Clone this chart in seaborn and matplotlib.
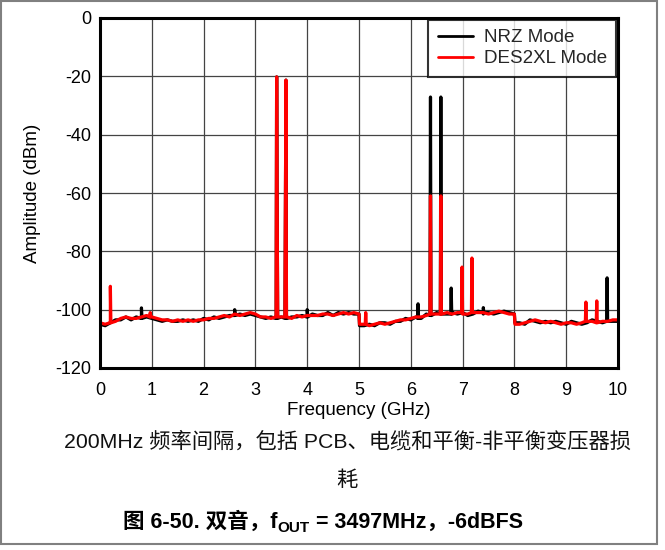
import numpy as np
import pandas as pd
import matplotlib
matplotlib.use("Agg")
import matplotlib.pyplot as plt
import seaborn as sns
from matplotlib.patches import Rectangle

# ---------------- data ----------------
floor_freq = [round(0.1 * i, 1) for i in range(101)]  # GHz grid of the noise floor readings

red_floor = [-104.5, -105, -104.5, -104, -103, -102.5, -103, -103, -102.5, -102,
             -102.5, -103, -103.5, -103.5, -104, -103.5, -104, -103.5, -104, -103.5,
             -103.5, -103, -103, -102.5, -102, -102.5, -101.5, -102, -101.5, -101,
             -101.5, -102.5, -102.5, -103, -102.5, -102.5, -102.5, -103, -102, -102.5,
             -102, -102, -102, -101.5, -101.5, -102, -101.5, -101, -101.5, -101,
             -101.5, -105, -105.5, -105, -104.5, -105, -104.5, -104, -103.5, -103.5,
             -103, -102.5, -102.5, -102, -101.5, -101.5, -101.5, -101, -101.5, -101,
             -101.5, -101.5, -101, -101, -101, -101.5, -101, -100.5, -101, -101.5,
             -101.5, -105, -104.5, -104, -103.5, -104, -104.5, -104, -104.5, -105,
             -104.5, -104.5, -105, -104.5, -104, -104, -104.5, -104, -104, -103.5,
             -103.5]

black_floor = [-105, -105.5, -104.5, -103.5, -103.5, -102.5, -103.5, -102.5, -103, -102.5,
               -103, -103.5, -104, -103.5, -104, -104, -103.5, -104, -103.5, -104,
               -103, -103.5, -102.5, -103, -102.5, -102, -102, -101.5, -102, -101.5,
               -102, -102.5, -103, -102.5, -103, -102.5, -103, -102.5, -102.5, -102,
               -102.5, -101.5, -102, -102, -101, -102, -101, -101.5, -101, -101.5,
               -101.5, -105.5, -105, -105.5, -104.5, -104.5, -105, -104, -104, -103,
               -103.5, -102.5, -103, -101.5, -102, -101, -101.5, -101.5, -101, -101.5,
               -101, -102, -101.5, -100.5, -101.5, -101, -101.5, -101, -100.5, -101,
               -101.5, -104.5, -105, -103.5, -104, -104.5, -104, -104.5, -104, -104.5,
               -105, -104, -104.5, -105, -104.5, -103.5, -104, -104.5, -103.5, -104,
               -104]

# narrow spurs / tones: frequency (GHz) and amplitude (dBm), with their shoulders
red_spur_freq = [0.19, 0.2, 0.21, 0.96, 0.97, 0.98, 3.39, 3.41, 3.43, 3.57, 3.59, 3.61,
                 5.01, 5.12, 5.13, 5.14, 6.37, 6.38, 6.39, 6.57, 6.58, 6.59,
                 6.98, 6.99, 7.0, 7.17, 7.18, 7.19, 8.01, 9.37, 9.38, 9.39, 9.58, 9.59, 9.6]
red_spur_amp = [-104.5, -92, -104.5, -102.5, -101, -102.5, -102.5, -20.2, -102.5, -102.5, -21.3, -102.5,
                -105, -105, -101, -105, -101.5, -61, -101.5, -101.5, -61, -101.5,
                -101, -85.4, -101.5, -101, -82.3, -101, -105, -104, -97.4, -104, -104.5, -97, -104.5]

black_spur_freq = [0.79, 0.8, 0.81, 2.59, 2.6, 2.61, 3.39, 3.41, 3.43, 3.57, 3.59, 3.61,
                   3.99, 4.0, 4.01, 5.01, 6.13, 6.14, 6.15, 6.37, 6.38, 6.39, 6.57, 6.58, 6.59,
                   6.77, 6.78, 6.79, 7.39, 7.4, 7.41, 8.01, 9.78, 9.79, 9.8]
black_spur_amp = [-103, -99.4, -103, -102, -100, -102, -103, -20.2, -103, -103, -21.3, -103,
                  -102.5, -100, -102.5, -105.5, -103, -98, -103, -102, -27.1, -102, -101.5, -27.1, -101.5,
                  -101.5, -92.6, -101.5, -101, -99.3, -101, -104.5, -104, -89.1, -104]

series_names = ["NRZ Mode", "DES2XL Mode"]
series_colors = ["#000000", "#ff0000"]
x_ticks = list(range(0, 11))
y_ticks = list(range(-120, 1, 20))

caption_line1 = "200MHz 频率间隔，包括 PCB、电缆和平衡-非平衡变压器损"
caption_line2 = "耗"
caption_bold_parts = ["图 6-50. 双音，f", "OUT", " = 3497MHz，-6dBFS"]


def build(freq, floor, sf, sa, name):
    f = list(freq) + list(sf)
    a = list(floor) + list(sa)
    df = pd.DataFrame({"Frequency": f, "Amplitude": a})
    df = df.sort_values("Frequency", kind="mergesort").reset_index(drop=True)
    df["Mode"] = name
    return df


df_black = build(floor_freq, black_floor, black_spur_freq, black_spur_amp, series_names[0])
df_red = build(floor_freq, red_floor, red_spur_freq, red_spur_amp, series_names[1])

# ---------------- plotting ----------------
sns.set_theme(style="white")
FAM = ["Liberation Sans", "Noto Sans CJK SC", "DejaVu Sans"]
plt.rcParams["font.family"] = FAM
plt.rcParams["axes.unicode_minus"] = False

W, H = 665, 550
fig = plt.figure(figsize=(W / 100, H / 100), dpi=100)
ax = fig.add_axes([100 / W, 1 - 368 / H, 518 / W, 350 / H])

for df, col in zip([df_black, df_red], series_colors):
    sns.lineplot(data=df, x="Frequency", y="Amplitude", ax=ax, color=col,
                 linewidth=2.3, estimator=None, sort=False, label=df["Mode"].iloc[0])

ax.set_xlim(0, 10)
ax.set_ylim(-120, 0)
ax.set_xticks(x_ticks)
ax.set_yticks(y_ticks)
ax.grid(True, color="#444444", linewidth=0.9)
ax.set_axisbelow(True)
for s in ax.spines.values():
    s.set_color("black")
    s.set_linewidth(2.2)
ax.tick_params(axis="both", length=0, labelsize=13, colors="black")
ax.tick_params(axis="y", pad=6.5)
ax.tick_params(axis="x", pad=10)
ax.set_xlabel("Frequency (GHz)", fontsize=13.5, color="black", labelpad=2)
ax.set_ylabel("Amplitude (dBm)", fontsize=13.5, color="black", labelpad=10)

leg = ax.legend(loc="upper right", fontsize=13.5, frameon=True, fancybox=False,
                borderpad=0.5, handlelength=1.9, handletextpad=0.55, labelspacing=0.2,
                borderaxespad=0.1)
leg.get_frame().set_edgecolor("black")
leg.get_frame().set_linewidth(1.5)
for line in leg.get_lines():
    line.set_linewidth(2.0)

fig.text(347 / W, 1 - 441 / H, caption_line1, ha="center", va="center", fontsize=15.3, color="#111111")
fig.text(347 / W, 1 - 480 / H, caption_line2, ha="center", va="center", fontsize=15.3, color="#111111")

# bold caption with a subscript, assembled from pieces
renderer = fig.canvas.get_renderer()
sizes = [15.5, 11, 15.5]
offsets = [0, -4, 0]
texts = []
for part, sz in zip(caption_bold_parts, sizes):
    t = fig.text(0, 0, part, fontsize=sz, fontweight="bold", color="black",
                 ha="left", va="baseline", transform=None)
    texts.append(t)
widths = [t.get_window_extent(renderer).width for t in texts]
x = 323 - sum(widths) / 2
base = H - 528
for t, w, off in zip(texts, widths, offsets):
    t.set_position((x, base + off))
    x += w

fig.patches.append(Rectangle((0.5 / W, 1 - 544 / H), 656.5 / W, 543.5 / H,
                             transform=fig.transFigure, fill=False,
                             edgecolor="#808080", linewidth=1.5))

fig.savefig("out.png", dpi=100)
